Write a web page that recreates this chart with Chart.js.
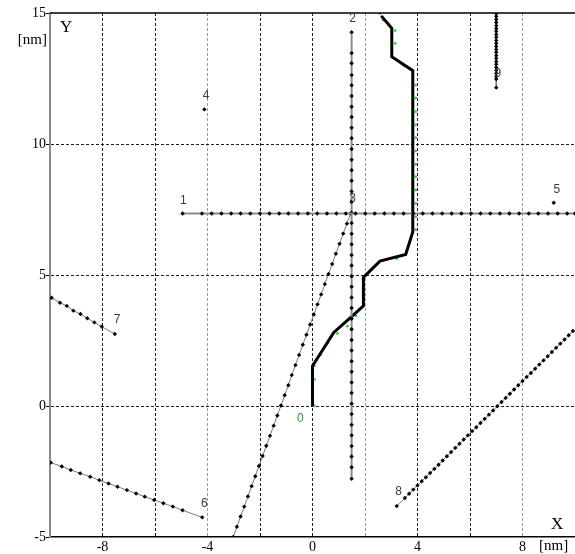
<!DOCTYPE html>
<html>
<head>
<meta charset="utf-8">
<title>Trajectories</title>
<script src="https://cdn.jsdelivr.net/npm/chart.js@4/dist/chart.umd.min.js"></script>
<style>
  html, body { margin: 0; padding: 0; background: #fff; overflow: hidden; }
  canvas { display: block; }
</style>
</head>
<body>
<!-- the plot runs slightly past the right-hand edge of the window -->
<canvas id="c" width="579" height="554"></canvas>
<script>
// Axis ranges and ticks
const xRange = [-10, 10];
const yRange = [-5, 15];
const xLabelled = [-8, -4, 0, 4, 8];
const yTicks = [-5, 0, 5, 10, 15];

// Trajectory 0 (thick path) vertices
const path0X = [0, 0, 0.81, 1.49, 1.94, 1.94, 2.57, 3.55, 3.82, 3.82, 3.02, 3.02, 2.62];
const path0Y = [0, 1.53, 2.81, 3.41, 3.82, 4.91, 5.53, 5.78, 6.64, 12.8, 13.33, 14.42, 14.89];
// continuation of path 0 beyond the top edge
const path0TailX = [2.62, 2.45];
const path0TailY = [14.89, 15.1];
// sample points recorded along path 0
const samples0X = [0, 0, 0, 0.24, 0.5, 0.88, 1.26, 1.58, 1.86, 1.86, 3.14, 3.86, 3.86, 3.86, 3.86, 3.86, 3.86, 3.86, 3.86, 3.86, 3.86, 3.86, 3.86, 3.42, 3.08, 3.08, 2.62, 2.49];
const samples0Y = [0, 1.02, 1.53, 1.95, 2.39, 2.77, 3.05, 3.44, 4.3, 4.84, 5.62, 6.73, 7.22, 7.73, 8.24, 8.75, 9.22, 9.73, 10.24, 10.73, 11.23, 11.76, 12.25, 13.0, 13.84, 14.33, 14.73, 14.99];

// Trajectory 1 (horizontal, y = 7.35)
const t1X = [-4.95, -4.21, -3.84, -3.47, -3.10, -2.74, -2.37, -2.00, -1.64, -1.27, -0.92, -0.55, -0.18, 0.18, 0.55, 0.91, 1.27, 1.64, 2.01, 2.37, 2.74, 3.10, 3.47, 3.84, 4.20, 4.57, 4.94, 5.30, 5.67, 6.04, 6.40, 6.77, 7.14, 7.50, 7.87, 8.24, 8.60, 8.97, 9.34, 9.70, 10.0];
const t1Y = [7.35, 7.35, 7.35, 7.35, 7.35, 7.35, 7.35, 7.35, 7.35, 7.35, 7.35, 7.35, 7.35, 7.35, 7.35, 7.35, 7.35, 7.35, 7.35, 7.35, 7.35, 7.35, 7.35, 7.35, 7.35, 7.35, 7.35, 7.35, 7.35, 7.35, 7.35, 7.35, 7.35, 7.35, 7.35, 7.35, 7.35, 7.35, 7.35, 7.35, 7.35];

// Trajectory 2 (vertical, x = 1.49)
const t2Y = [14.27, 13.47, 13.08, 12.63, 12.24, 11.83, 11.42, 11.03, 10.62, 10.22, 9.81, 9.40, 9.00, 8.60, 8.19, 7.79, 7.38, 6.98, 6.57, 6.17, 5.76, 5.36, 4.95, 4.55, 4.14, 3.74, 3.33, 2.93, 2.52, 2.12, 1.71, 1.31, 0.90, 0.50, 0.09, -0.31, -0.72, -1.12, -1.53, -1.93, -2.34, -2.78];
const t2X = t2Y.map(() => 1.49);

// Trajectory 3 (diagonal from the crossing down to the bottom edge)
const t3X = [1.45, 1.31, 1.17, 1.03, 0.89, 0.75, 0.61, 0.47, 0.33, 0.19, 0.05, -0.09, -0.23, -0.37, -0.51, -0.65, -0.79, -0.92, -1.06, -1.20, -1.34, -1.48, -1.62, -1.76, -1.90, -2.04, -2.18, -2.32, -2.46, -2.60, -2.74, -2.88, -3.02];
const t3Y = [7.35, 6.96, 6.58, 6.19, 5.81, 5.42, 5.04, 4.65, 4.26, 3.88, 3.49, 3.11, 2.72, 2.34, 1.95, 1.56, 1.18, 0.79, 0.41, 0.02, -0.36, -0.75, -1.14, -1.52, -1.91, -2.29, -2.68, -3.06, -3.45, -3.84, -4.22, -4.61, -5.0];

// Trajectories 4 and 5 (single points)
const t4X = [-4.12];
const t4Y = [11.32];
const t5X = [9.19];
const t5Y = [7.76];

// Trajectory 6
const t6X = [-9.97, -9.55, -9.21, -8.85, -8.47, -8.12, -7.77, -7.43, -7.07, -6.72, -6.39, -6.03, -5.68, -5.32, -4.95, -4.2];
const t6Y = [-2.16, -2.31, -2.44, -2.57, -2.70, -2.83, -2.96, -3.08, -3.21, -3.34, -3.46, -3.59, -3.71, -3.84, -3.98, -4.25];

// Trajectory 7
const t7X = [-9.94, -9.62, -9.36, -9.11, -8.84, -8.58, -8.31, -8.03, -7.53];
const t7Y = [4.13, 3.94, 3.82, 3.64, 3.51, 3.35, 3.19, 3.03, 2.75];

// Trajectory 8
const t8X = [3.21, 3.52, 3.68, 3.84, 4.00, 4.16, 4.32, 4.48, 4.64, 4.80, 4.96, 5.12, 5.28, 5.44, 5.60, 5.76, 5.92, 6.08, 6.24, 6.40, 6.56, 6.72, 6.88, 7.04, 7.20, 7.36, 7.52, 7.68, 7.84, 8.00, 8.16, 8.32, 8.48, 8.64, 8.80, 8.96, 9.12, 9.28, 9.44, 9.60, 9.76, 9.92];
const t8Y = [-3.82, -3.51, -3.35, -3.19, -3.03, -2.87, -2.72, -2.56, -2.40, -2.24, -2.08, -1.92, -1.76, -1.60, -1.44, -1.28, -1.12, -0.96, -0.81, -0.65, -0.49, -0.33, -0.17, -0.01, 0.15, 0.31, 0.47, 0.63, 0.79, 0.95, 1.11, 1.26, 1.42, 1.58, 1.74, 1.90, 2.06, 2.22, 2.38, 2.54, 2.70, 2.86];

// Trajectory 9 (vertical, x = 7.0)
const t9Y = [14.98, 14.87, 14.75, 14.64, 14.52, 14.41, 14.30, 14.18, 14.07, 13.95, 13.84, 13.72, 13.61, 13.50, 13.38, 13.27, 13.15, 13.04, 12.92, 12.81, 12.70, 12.58, 12.48, 12.15];
const t9X = t9Y.map(() => 7.0);

// Trajectory numbers and where they are written
const labelText = ['0', '1', '2', '3', '4', '5', '6', '7', '8', '9'];
const labelX = [-0.46, -4.92, 1.53, 1.53, -4.05, 9.31, -4.12, -7.44, 3.28, 7.06];
const labelY = [-0.5, 7.82, 14.77, 7.9, 11.83, 8.24, -3.74, 3.28, -3.28, 12.67];

const pts = (xs, ys) => xs.map((x, i) => ({ x: x, y: ys[i] }));

function dotted(xs, ys, lineColor, lineWidth) {
  return {
    data: pts(xs, ys),
    showLine: true,
    borderColor: lineColor,
    borderWidth: lineWidth,
    pointStyle: 'rectRot',
    pointRadius: 2.2,
    pointBackgroundColor: '#000',
    pointBorderColor: '#000',
    pointBorderWidth: 0,
    tension: 0
  };
}

const datasets = [
  dotted(t1X, t1Y, '#8c8c8c', 2),
  dotted(t2X, t2Y, '#8c8c8c', 2),
  dotted(t3X, t3Y, '#7a7a7a', 1),
  dotted(t4X, t4Y, '#7a7a7a', 1),
  dotted(t5X, t5Y, '#7a7a7a', 1),
  dotted(t6X, t6Y, '#7a7a7a', 1),
  dotted(t7X, t7Y, '#7a7a7a', 1),
  dotted(t8X, t8Y, '#7a7a7a', 1),
  dotted(t9X, t9Y, '#7a7a7a', 1),
  {
    data: pts(path0TailX, path0TailY),
    showLine: true,
    borderColor: '#7bd67b',
    borderWidth: 1,
    pointRadius: 0
  },
  {
    data: pts(path0X, path0Y),
    showLine: true,
    borderColor: '#000',
    borderWidth: 3,
    borderJoinStyle: 'miter',
    pointRadius: 0,
    tension: 0
  },
  {
    data: pts(samples0X.map(v => v + 0.07), samples0Y),
    showLine: false,
    pointStyle: 'circle',
    pointRadius: 1.4,
    pointBackgroundColor: '#22e022',
    pointBorderWidth: 0
  }
];

const greyGrid = [-4, 2, 8];

const annotations = {
  id: 'annotations',
  afterDatasetsDraw(chart) {
    const ctx = chart.ctx;
    const xs = chart.scales.x, ys = chart.scales.y;
    const area = chart.chartArea;
    ctx.save();
    // top frame line
    ctx.strokeStyle = '#000';
    ctx.lineWidth = 1.5;
    ctx.beginPath();
    ctx.moveTo(area.left, area.top);
    ctx.lineTo(area.right + 1, area.top);
    ctx.stroke();

    // trajectory numbers
    ctx.font = '12px "Liberation Sans", Arial, sans-serif';
    ctx.textAlign = 'center';
    ctx.textBaseline = 'middle';
    labelText.forEach((t, i) => {
      ctx.fillStyle = t === '0' ? '#2e9e2e' : '#3a3a3a';
      ctx.fillText(t, xs.getPixelForValue(labelX[i]), ys.getPixelForValue(labelY[i]));
    });

    // axis names and units
    ctx.fillStyle = '#000';
    ctx.font = '17px "Liberation Serif", "Times New Roman", serif';
    ctx.textAlign = 'left';
    ctx.fillText('Y', 60, 28);
    ctx.fillText('X', 551, 525);
    ctx.font = '15px "Liberation Serif", "Times New Roman", serif';
    ctx.textAlign = 'right';
    ctx.fillText('[nm]', 47, 40);
    ctx.textAlign = 'left';
    ctx.fillText('[nm]', 539, 546);
    ctx.restore();
  }
};

new Chart(document.getElementById('c'), {
  type: 'scatter',
  data: { datasets: datasets },
  options: {
    responsive: false,
    devicePixelRatio: 1,
    animation: false,
    layout: { padding: { top: 13, right: 1, left: 0, bottom: 0 } },
    plugins: { legend: { display: false }, tooltip: { enabled: false } },
    scales: {
      x: {
        type: 'linear',
        min: xRange[0],
        max: xRange[1],
        afterFit(scale) {
          scale.height = 17;
          scale.paddingLeft = 0;
          scale.paddingRight = 0;
        },
        ticks: {
          stepSize: 2,
          autoSkip: false,
          maxRotation: 0,
          padding: 2,
          color: '#000',
          font: { family: '"Liberation Serif", "Times New Roman", serif', size: 14 },
          callback: (v) => xLabelled.includes(v) ? String(v) : ''
        },
        grid: {
          drawTicks: false,
          lineWidth: 1,
          color: (c) => {
            const v = c.tick ? c.tick.value : 0;
            if (v <= xRange[0] || v >= xRange[1]) return 'rgba(0,0,0,0)';
            return greyGrid.includes(v) ? '#9a9a9a' : '#1e1e1e';
          }
        },
        border: { display: true, color: '#000', width: 1.5, dash: [3, 2] }
      },
      y: {
        type: 'linear',
        min: yRange[0],
        max: yRange[1],
        afterFit(scale) {
          scale.width = 50;
          scale.paddingTop = 0;
          scale.paddingBottom = 0;
        },
        afterBuildTicks(scale) { scale.ticks = yTicks.map(v => ({ value: v })); },
        ticks: {
          padding: 0,
          color: '#000',
          font: { family: '"Liberation Serif", "Times New Roman", serif', size: 14 },
          callback: (v) => String(v)
        },
        grid: {
          drawTicks: true,
          tickLength: 4,
          tickColor: '#000',
          lineWidth: 1,
          color: (c) => {
            const v = c.tick ? c.tick.value : 0;
            if (v <= yRange[0] || v >= yRange[1]) return 'rgba(0,0,0,0)';
            return '#1e1e1e';
          }
        },
        border: { display: true, color: '#8a8a8a', width: 2, dash: [3, 2] }
      }
    }
  },
  plugins: [annotations]
});
</script>
</body>
</html>
